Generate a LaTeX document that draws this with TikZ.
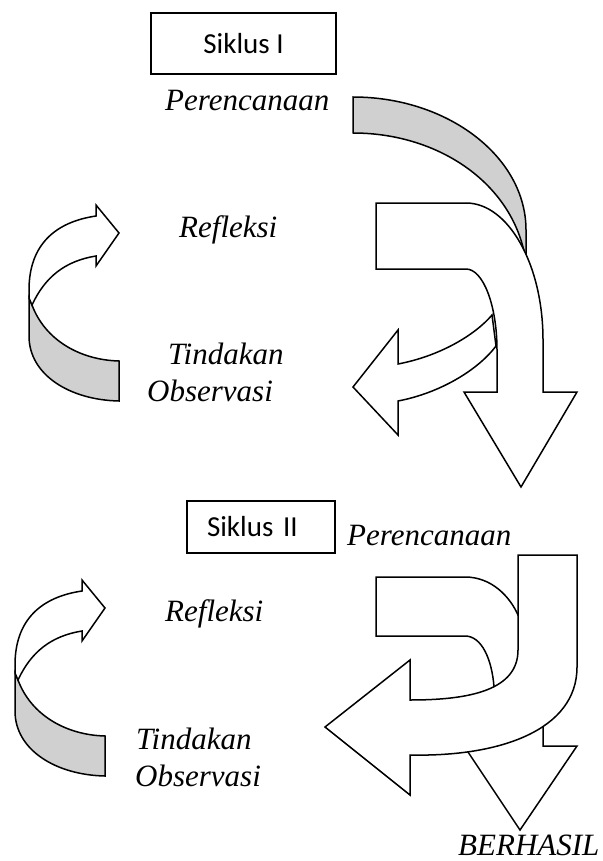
\documentclass[tikz,border=0pt]{standalone}
\usepackage{fontspec}
\setmainfont{Liberation Serif}
\newfontfamily\calib{Carlito}
\definecolor{shade}{RGB}{208,208,208}
\begin{document}
\begin{tikzpicture}[x=1pt,y=-1pt,
  shp/.style={draw=black, fill=white, line width=1.5pt, line join=miter},
  gshp/.style={draw=black, fill=shade, line width=1.5pt, line join=miter},
  lbl/.style={font=\fontsize{31}{31}\selectfont\itshape, inner sep=0pt, anchor=base west},
  boxnode/.style={draw=black, line width=1.3pt, font=\calib\fontsize{29}{29}\selectfont, inner sep=0pt}]
\useasboundingbox (0,0) rectangle (602,861);

% ---------- Siklus I ----------
\node[boxnode, minimum width=185pt, minimum height=61pt] (s1) at (243.5,43.5) {Siklus I};

% top-right gray strip
\path[gshp] (353,97) .. controls (448,97) and (526,157) .. (526,230) -- (526,262)
   .. controls (515,185) and (440,133) .. (353,133) -- cycle;
% left-pointing arrow (behind)
\path[shp] (492,315) .. controls (475,335) and (440,356) .. (398,364) -- (398,330) -- (353,387)
   -- (398,435) -- (398,401) .. controls (440,393) and (478,370) .. (496,346) -- cycle;
% bent down arrow
\path[shp] (376,203) -- (466,203) .. controls (508,203) and (543,264) .. (543,340) -- (543,392)
   -- (577,392) -- (521,487) -- (464,392) -- (497,392) -- (497,350)
   .. controls (497,305) and (483,269) .. (466,269) -- (376,269) -- cycle;

% top-left curved arrow
\path[gshp] (32,305) .. controls (45,340) and (80,360) .. (119,361) -- (119,401)
   .. controls (70,400) and (29,375) .. (29,336) -- (29,298) -- cycle;
\path[shp] (29,298) -- (29,290) .. controls (29,245) and (55,222) .. (96,216) -- (96,205)
   -- (119,233) -- (96,266) -- (96,256) .. controls (65,261) and (45,277) .. (32,305) -- cycle;

\node[lbl] (per1) at (165,111) {Perencanaan};
\node[lbl] (ref1) at (179,237) {Refleksi};
\node[lbl] (tin1) at (168,364) {Tindakan};
\node[lbl] (obs1) at (147,401) {Observasi};

% ---------- Siklus II ----------
\node[boxnode, minimum width=148pt, minimum height=52pt, text width=108pt, align=left] (s2) at (261,527) {Siklus II};

% bottom-left curved arrow
\begin{scope}[shift={(-14,375)}]
\path[gshp] (32,305) .. controls (45,340) and (80,360) .. (119,361) -- (119,401)
   .. controls (70,400) and (29,375) .. (29,336) -- (29,298) -- cycle;
\path[shp] (29,298) -- (29,290) .. controls (29,245) and (55,222) .. (96,216) -- (96,205)
   -- (119,233) -- (96,266) -- (96,256) .. controls (65,261) and (45,277) .. (32,305) -- cycle;
\end{scope}

% down arrow (behind)
\path[shp] (497,700) -- (543,700) -- (543,746) -- (577,746) -- (520,830) -- (464,746) -- (497,746) -- cycle;
% bent shape (behind)
\path[shp] (376,577) -- (465,577) .. controls (492,577) and (510,597) .. (518,615) -- (540,640)
   -- (540,710) -- (495,710) -- (494,687) .. controls (492,660) and (482,636) .. (465,636)
   -- (376,636) -- cycle;
% J arrow
\path[shp] (518,555) -- (577,555) -- (577,667) .. controls (577,730) and (500,757) .. (410,755)
   -- (410,795) -- (325,727) -- (410,660) -- (410,700) .. controls (470,700) and (518,690) .. (518,650) -- cycle;

\node[lbl] (per2) at (347,545) {Perencanaan};
\node[lbl] (ref2) at (165,621) {Refleksi};
\node[lbl] (tin2) at (136,749) {Tindakan};
\node[lbl] (obs2) at (135,786) {Observasi};
\node[lbl] (ber) at (458,855) {BERHASIL};
\end{tikzpicture}
\end{document}
